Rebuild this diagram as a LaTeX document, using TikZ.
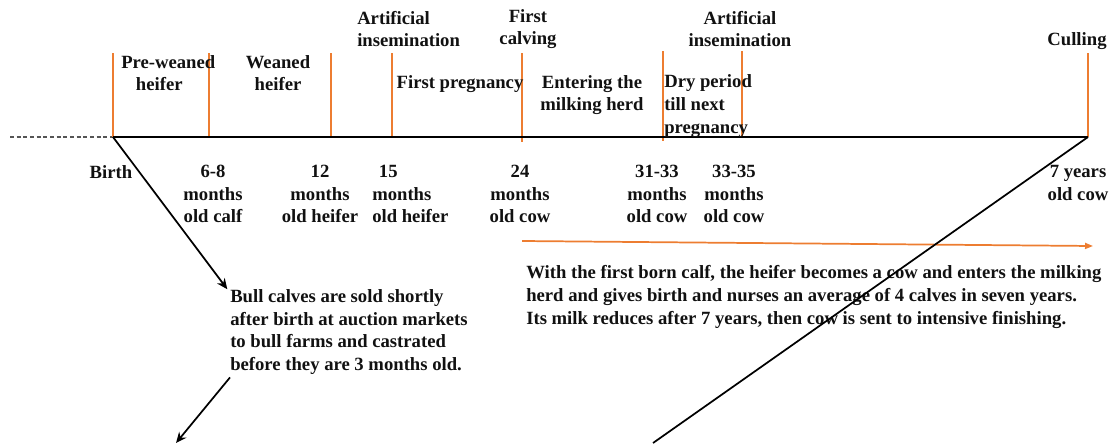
\documentclass[tikz,border=0pt]{standalone}
\usepackage{fontspec}
\setmainfont{Liberation Serif}
\usetikzlibrary{arrows.meta,positioning}
\definecolor{tickorange}{HTML}{ED7D31}
\definecolor{ink}{HTML}{111111}
\definecolor{dashgray}{HTML}{555555}
\tikzset{
  lbl/.style     ={inner sep=0pt,align=center,text=ink,
                   font=\fontsize{14}{17}\selectfont\bfseries},
  lblleft/.style ={lbl,align=left},
  axis/.style    ={draw=black,line width=1.7pt},
  pastline/.style={draw=dashgray,line width=1pt,dash pattern=on 3pt off 2pt},
  tickline/.style={draw=tickorange,line width=1.5pt},
  flow/.style    ={-{Stealth[length=8pt,width=7pt]},line width=1.3pt,draw=black},
  later/.style   ={-{Triangle[length=6pt,width=4.5pt]},line width=1.3pt,draw=tickorange}
}

\begin{document}
\begin{tikzpicture}[x=0.75pt,y=-0.75pt]
  \useasboundingbox (0,0) rectangle (1120,443);
  % timeline
  \coordinate (t0) at (113,137);
  \coordinate (t7) at (1088,137);
  \coordinate (dstart) at (10,137);
  \draw[pastline] (dstart) -- (t0);
  \foreach \x/\top/\bot in {113/53/137,209/53/137,331/53/137,392/53/137,
                            522/53/142,663/51/141,742/51/138,1088/53/137}
    \draw[tickline] (\x,\top) -- (\x,\bot);
  \draw[axis] (t0) -- (t7);
  % events above the line
  \node[lblleft,anchor=west] (ai1) at (357,29) {Artificial\\insemination};
  \node[lbl] (calv) at (528,29) {First\\calving};
  \node[lbl] (ai2) at (740,29) {Artificial\\insemination};
  \node[lbl] (cull) at (1077,41) {Culling};
  \node[lblleft,anchor=west] (prew) at (121,73) {Pre-weaned\\\hspace*{11pt}heifer};
  \node[lbl] (wean) at (278,73) {Weaned\\heifer};
  \node[lbl] (preg) at (460,84) {First pregnancy};
  \node[lbl] (milk) at (592,95) {Entering the\\milking herd};
  \node[lblleft,anchor=west] (dry) at (664,106) {Dry period\\till next\\pregnancy};
  % ages below the line
  \node[lbl] (birth) at (111,172) {Birth};
  \node[lbl] (m6) at (213,194) {6-8\\months\\old calf};
  \node[lbl] (m12) at (320,194) {12\\months\\old heifer};
  \node[lblleft,anchor=west] (m15) at (372,194) {\hspace*{5pt}15\\months\\old heifer};
  \node[lbl] (m24) at (520,194) {24\\months\\old cow};
  \node[lbl] (m31) at (657,194) {31-33\\months\\old cow};
  \node[lbl] (m33) at (734,194) {33-35\\months\\old cow};
  \node[lbl] (y7) at (1078,183) {7 years\\old cow};
  % notes
  \node[lblleft,anchor=west] (bull) at (230,332)
    {Bull calves are sold shortly\\after birth at auction markets\\to bull farms and castrated\\before they are 3 months old.};
  \node[lblleft,anchor=west] (cow) at (526,297)
    {With the first born calf, the heifer becomes a cow and enters the milking\\
     herd and gives birth and nurses an average of 4 calves in seven years.\\
     Its milk reduces after 7 years, then cow is sent to intensive finishing.};
  % connectors
  \coordinate (hstart) at (522,241);
  \coordinate (hend) at (1093,246);
  \draw[later] (hstart) -- (hend);
  \coordinate (bullout) at (176,443);
  \coordinate (cowout) at (653,443);
  \draw[flow] (t0) -- ([xshift=-2pt]bull.north west);
  \draw[flow] ([yshift=-2pt]bull.south west) -- (bullout);
  \draw[line width=1.3pt] (t7) -- (cowout);
\end{tikzpicture}
\end{document}
